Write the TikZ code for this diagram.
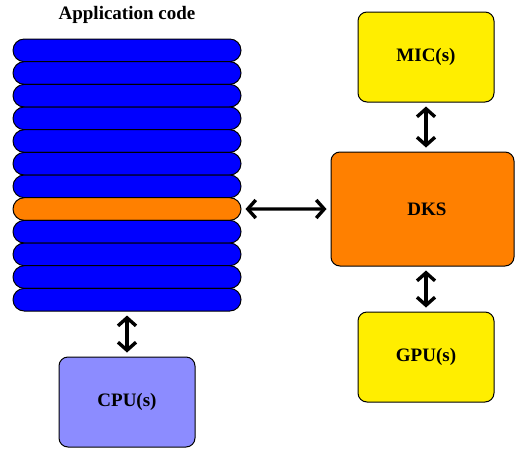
\documentclass[tikz,border=0pt]{standalone}
\usepackage{fontspec}
\setmainfont{Liberation Serif}
\usetikzlibrary{arrows.meta,positioning}
\definecolor{appblue}{RGB}{0,0,255}
\definecolor{dksorange}{RGB}{255,128,0}
\definecolor{accyellow}{RGB}{255,238,0}
\definecolor{cpublue}{RGB}{140,140,255}

\begin{document}
\begin{tikzpicture}[x=1pt,y=-1pt,
  every node/.style={font=\fontsize{19}{22}\selectfont\bfseries},
  layer/.style={draw,line width=1pt,rounded corners=11.3pt,minimum width=228pt,minimum height=22.67pt,inner sep=0pt},
  unit/.style={draw,line width=1pt,rounded corners=9pt,minimum width=136pt,minimum height=90pt,inner sep=0pt},
  link/.style={line width=3.4pt,{Straight Barb[length=8pt,width=18pt]}-{Straight Barb[length=8pt,width=18pt]},shorten <=4pt,shorten >=4pt}]
\useasboundingbox (0,0) rectangle (515,448);
\node (title) at (127,15) {Application code};
\foreach \i/\c in {1/appblue,2/appblue,3/appblue,4/appblue,5/appblue,6/appblue,
                   7/appblue,8/dksorange,9/appblue,10/appblue,11/appblue,12/appblue}{% stack of code layers
  \node[layer,fill=\c] (bar\i) at (127,{39+22.67*(\i-0.5)}) {};
}
\node[unit,fill=cpublue] (cpu) at (127,402) {CPU(s)};
\node[unit,fill=dksorange,minimum width=183pt,minimum height=114pt] (dks) at (422.5,209) {\hspace*{9pt}DKS};
\node[unit,fill=accyellow] (mic) at (426,57) {MIC(s)};
\node[unit,fill=accyellow] (gpu) at (426,357) {GPU(s)};
\draw[link] (bar12.south) -- (cpu.north);
\draw[link] (bar8.east) -- (dks.west);
\draw[link] (mic.south) -- (mic.south |- dks.north);
\draw[link] (gpu.north |- dks.south) -- (gpu.north);
\end{tikzpicture}
\end{document}
